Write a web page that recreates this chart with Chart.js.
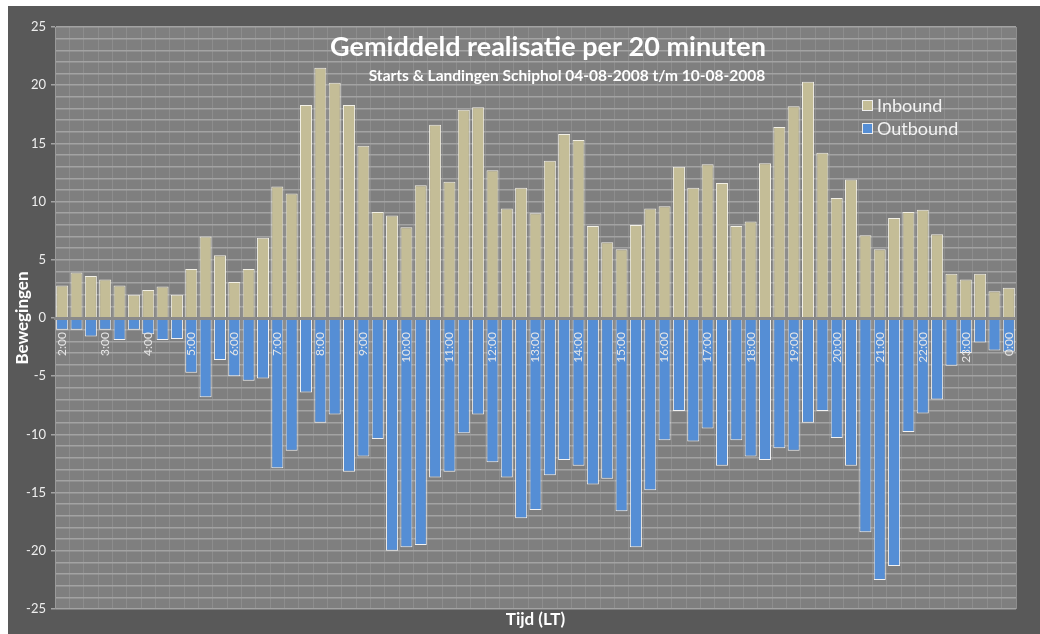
<!DOCTYPE html>
<html>
<head>
<meta charset="utf-8">
<title>Gemiddeld realisatie per 20 minuten</title>
<script src="https://cdn.jsdelivr.net/npm/chart.js@4"></script>
<style>
    html, body { margin: 0; padding: 0; background: #ffffff; }
    #wrap { position: absolute; left: 8px; top: 6px; width: 1032px; height: 628px; background: #595959; }
</style>
</head>
<body>
<div id="wrap"><canvas id="myChart"></canvas></div>
<script>
// tijdvakken van 20 minuten (LT)
const tijden = [
    '2:00', '2:20', '2:40', '3:00', '3:20', '3:40', '4:00', '4:20', '4:40',
    '5:00', '5:20', '5:40', '6:00', '6:20', '6:40', '7:00', '7:20', '7:40',
    '8:00', '8:20', '8:40', '9:00', '9:20', '9:40', '10:00', '10:20', '10:40',
    '11:00', '11:20', '11:40', '12:00', '12:20', '12:40', '13:00', '13:20', '13:40',
    '14:00', '14:20', '14:40', '15:00', '15:20', '15:40', '16:00', '16:20', '16:40',
    '17:00', '17:20', '17:40', '18:00', '18:20', '18:40', '19:00', '19:20', '19:40',
    '20:00', '20:20', '20:40', '21:00', '21:20', '21:40', '22:00', '22:20', '22:40',
    '23:00', '23:20', '23:40', '0:00'
];

// gemiddeld aantal landingen per tijdvak
const inbound = [
    2.8, 3.9, 3.6, 3.3, 2.8, 2.0, 2.4, 2.7, 2.0, 4.2,
    7.0, 5.4, 3.1, 4.2, 6.9, 11.3, 10.7, 18.3, 21.5, 20.2,
    18.3, 14.8, 9.1, 8.8, 7.8, 11.4, 16.6, 11.7, 17.9, 18.1,
    12.7, 9.4, 11.2, 9.0, 13.5, 15.8, 15.3, 7.9, 6.5, 5.9,
    8.0, 9.4, 9.6, 13.0, 11.2, 13.2, 11.6, 7.9, 8.3, 13.3,
    16.4, 18.2, 20.3, 14.2, 10.3, 11.9, 7.1, 5.9, 8.6, 9.1,
    9.3, 7.2, 3.8, 3.3, 3.8, 2.3, 2.6
];

// gemiddeld aantal starts per tijdvak (negatief getekend)
const outbound = [
    -1.0, -1.0, -1.6, -1.0, -1.9, -1.0, -1.4, -1.9, -1.8, -4.7,
    -6.8, -3.6, -5.0, -5.4, -5.2, -12.9, -11.4, -6.4, -9.0, -8.3,
    -13.2, -11.9, -10.4, -20.0, -19.7, -19.5, -13.7, -13.2, -9.9, -8.3,
    -12.4, -13.7, -17.2, -16.5, -13.5, -12.2, -12.7, -14.3, -13.8, -16.6,
    -19.7, -14.8, -10.5, -8.0, -10.6, -9.5, -12.7, -10.5, -11.9, -12.2,
    -11.2, -11.4, -9.0, -8.0, -10.3, -12.7, -18.4, -22.5, -21.3, -9.8,
    -8.2, -7.0, -4.1, -3.0, -2.1, -2.8, -2.9
];

const titel = 'Gemiddeld realisatie per 20 minuten';
const subtitel = 'Starts & Landingen Schiphol 04-08-2008 t/m 10-08-2008';

Chart.defaults.font.family = 'Lato, "Open Sans", sans-serif';
Chart.defaults.color = '#eeeeee';

// grijze plotachtergrond, titels en legenda binnen het plotvlak
const plotExtra = {
    id: 'plotExtra',
    beforeDraw(chart) {
        const ctx = chart.ctx;
        const a = chart.chartArea;
        ctx.save();
        ctx.fillStyle = '#7f7f7f';
        ctx.fillRect(a.left, a.top, a.right - a.left, a.bottom - a.top);
        ctx.restore();
    },
    afterDraw(chart) {
        const ctx = chart.ctx;
        ctx.save();
        ctx.fillStyle = '#ffffff';
        ctx.textAlign = 'center';
        ctx.textBaseline = 'middle';
        ctx.font = 'bold 27px Lato';
        ctx.fillText(titel, 540, 41);
        ctx.font = 'bold 15.5px Lato';
        ctx.fillText(subtitel, 559, 70);

        // legenda
        ctx.textAlign = 'left';
        ctx.font = '18px Lato';
        chart.data.datasets.forEach(function (ds, i) {
            let y = 99 + i * 23;
            ctx.fillStyle = ds.backgroundColor;
            ctx.fillRect(854, y - 5, 11, 11);
            ctx.strokeStyle = '#eeeeee';
            ctx.lineWidth = 1;
            ctx.strokeRect(854.5, y - 4.5, 10, 10);
            ctx.fillStyle = '#f2f2f2';
            ctx.fillText(ds.label, 869, y + 1);
        });
        ctx.restore();
    }
};

var ctx = document.getElementById('myChart');
var myChart = new Chart(ctx, {
    type: 'bar',
    data: {
        labels: tijden,
        datasets: [{
            label: 'Inbound',
            data: inbound,
            backgroundColor: '#c4bd97',
            borderColor: '#f2f0e6',
            borderWidth: 1
        }, {
            label: 'Outbound',
            data: outbound,
            backgroundColor: '#558ed5',
            borderColor: '#f2f2f2',
            borderWidth: 1
        }]
    },
    options: {
        responsive: true,
        maintainAspectRatio: false,
        animation: false,
        barPercentage: 0.84,
        categoryPercentage: 1,
        layout: {
            padding: { left: 0, top: 21, right: 24, bottom: 0 }
        },
        plugins: {
            legend: { display: false },
            tooltip: { enabled: false }
        },
        scales: {
            x: {
                stacked: true,
                position: { y: 0 },
                grid: {
                    color: '#8d8d8d',
                    lineWidth: 1,
                    drawTicks: false
                },
                border: { display: true, color: '#8a8a8a', width: 3, z: 1 },
                ticks: {
                    z: 1,
                    autoSkip: false,
                    minRotation: 90,
                    maxRotation: 90,
                    padding: 14,
                    color: '#e6e6e6',
                    font: { size: 12 },
                    callback: function (val, i) {
                        return i % 3 === 0 ? this.getLabelForValue(val) : '';
                    }
                }
            },
            x2: {
                type: 'category',
                position: 'bottom',
                grid: { display: false },
                border: { display: false },
                ticks: { display: false },
                title: {
                    display: true,
                    text: 'Tijd (LT)',
                    color: '#ffffff',
                    font: { size: 17, weight: 'bold' },
                    padding: { top: 2, bottom: 4 }
                },
                afterFit: function (scale) { scale.height = 25; }
            },
            y: {
                stacked: true,
                min: -25,
                max: 25,
                grid: {
                    color: function (c) {
                        return c.tick && c.tick.value === 0 ? 'rgba(0,0,0,0)' : '#a3a3a3';
                    },
                    lineWidth: 1.5,
                    tickLength: 4,
                    tickColor: function (c) {
                        return c.tick && c.tick.value % 5 === 0 ? '#a3a3a3' : 'rgba(0,0,0,0)';
                    }
                },
                border: { display: true, color: '#9a9a9a' },
                ticks: {
                    stepSize: 1,
                    autoSkip: false,
                    padding: 5,
                    color: '#eeeeee',
                    font: { size: 13 },
                    callback: function (v) {
                        return v % 5 === 0 ? v : '';
                    }
                },
                title: {
                    display: true,
                    text: 'Bewegingen',
                    color: '#ffffff',
                    font: { size: 17, weight: 'bold' },
                    padding: { top: 4, bottom: 4 }
                },
                afterFit: function (scale) { scale.width = 47; }
            }
        }
    },
    plugins: [plotExtra]
});
</script>
</body>
</html>
